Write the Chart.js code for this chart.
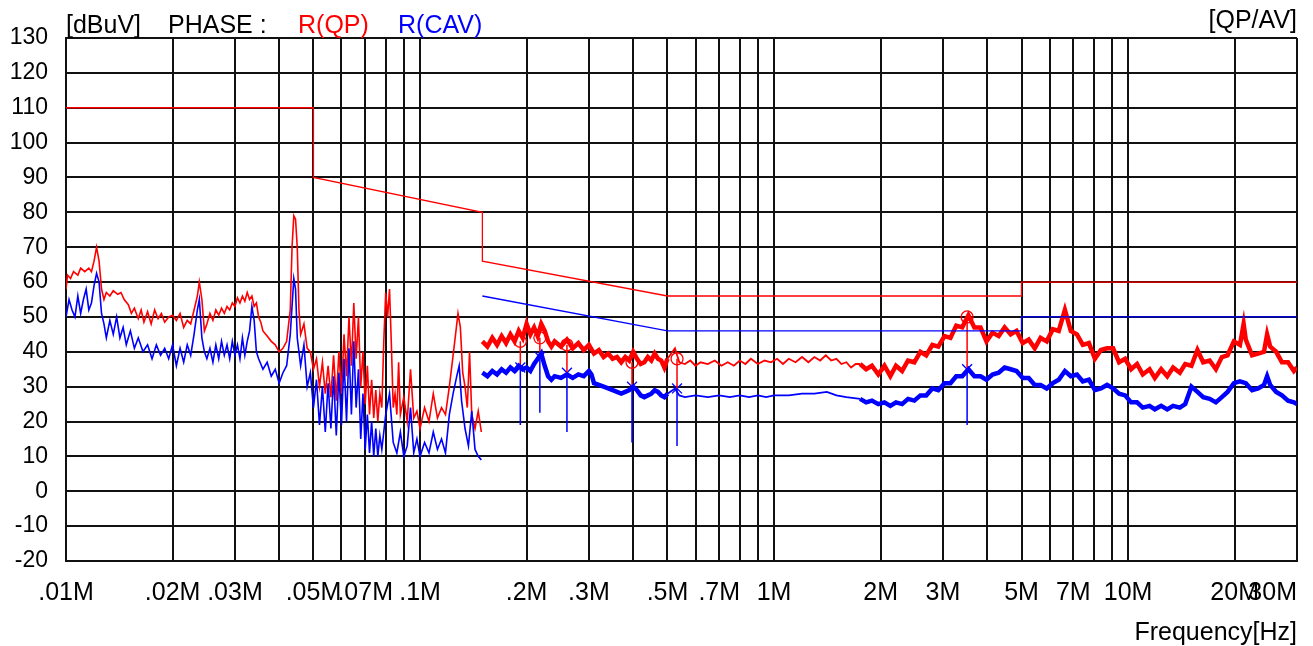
<!DOCTYPE html>
<html>
<head>
<meta charset="utf-8">
<script src="https://cdn.jsdelivr.net/npm/chart.js@4.4.1/dist/chart.umd.min.js"></script>
<style>
html, body { margin: 0; padding: 0; background: #fff; }
#wrap { width: 1313px; height: 646px; position: relative; }
</style>
</head>
<body>
<div id="wrap"><canvas id="emi"></canvas></div>
<script>
// frequencies in MHz, levels in dBuV

const gridFreqs = [0.01,0.02,0.03,0.04,0.05,0.06,0.07,0.08,0.09,
  0.1,0.2,0.3,0.4,0.5,0.6,0.7,0.8,0.9,1,2,3,4,5,6,7,8,9,10,20,30];
const tickFreqs = [0.01,0.02,0.03,0.05,0.07,0.1,0.2,0.3,0.5,0.7,1,2,3,5,7,10,20,30];
const tickLabels = ['.01M','.02M','.03M','.05M','.07M','.1M','.2M','.3M','.5M','.7M',
  '1M','2M','3M','5M','7M','10M','20M','30M'];

// limit lines
const qpLimFreq  = [0.01,0.05,0.05,0.15,0.15,0.5,5,5,30];
const qpLimLevel = [110,110,90,80,66,56,56,60,60];
const avLimFreq  = [0.15,0.5,5,5,30];
const avLimLevel = [56,46,46,50,50];

// QP trace, 0.01M - 0.15M
const qpLowFreq = [
  0.0100,0.0101,0.0103,0.0105,0.0108,0.0110,0.0113,0.0116,0.0118,0.0120,
  0.0122,0.0124,0.0126,0.0128,0.0130,0.0133,0.0136,0.0140,0.0143,0.0146,
  0.0150,0.0153,0.0156,0.0160,0.0163,0.0166,0.0170,0.0174,0.0178,0.0182,
  0.0186,0.0190,0.0195,0.0200,0.0205,0.0210,0.0215,0.0220,0.0225,0.0230,
  0.0235,0.0238,0.0242,0.0246,0.0250,0.0255,0.0260,0.0265,0.0270,0.0275,
  0.0280,0.0285,0.0290,0.0295,0.0300,0.0305,0.0310,0.0315,0.0320,0.0325,
  0.0330,0.0335,0.0340,0.0345,0.0350,0.0355,0.0360,0.0370,0.0380,0.0390,
  0.0400,0.0410,0.0420,0.0430,0.0435,0.0440,0.0445,0.0450,0.0455,0.0460,
  0.0470,0.0480,0.0490,0.0500,0.0510,0.0520,0.0530,0.0540,0.0550,0.0560,
  0.0570,0.0580,0.0590,0.0600,0.0610,0.0620,0.0630,0.0640,0.0650,0.0660,
  0.0670,0.0680,0.0690,0.0700,0.0710,0.0720,0.0730,0.0740,0.0750,0.0760,
  0.0770,0.0780,0.0790,0.0800,0.0810,0.0820,0.0830,0.0840,0.0850,0.0860,
  0.0870,0.0880,0.0900,0.0920,0.0940,0.0960,0.0980,0.1000,0.1030,0.1060,
  0.1090,0.1120,0.1150,0.1180,0.1210,0.1240,0.1260,0.1280,0.1300,0.1320,
  0.1340,0.1360,0.1380,0.1400,0.1430,0.1460,0.1490];
const qpLowLevel = [
  58,62,61,63,62,64,63,64,63,66,
  70,66,58,55,57,56,57.5,56.5,57,55,
  53.5,51,52.5,49.5,52,48.5,51.5,48,52,49.5,
  51,48.5,50,50.5,49,51,47,49,48,52,
  56,60,55,46,48,51,49,52,50.5,52.5,
  51,53,52,54,53,55.5,54,56,54.5,57,
  55,56,53,54,50,48.5,46,44.5,43,42,
  40,41,43,52,70,79,78,70,52,45,
  48,41,40,35,38,30,37,28,36,27,
  39,26,40,28,45,33,50,36,54,38,
  50,30,40,25,36,22,32,21,29,20,
  28,24,43,57,50,58,42,24,28,22,
  37,22,27,20,35,21,23,18,24,20,
  28,21,24,22,30,39,45,51,47,34,
  30,24,40,22,18,23,17];

// CAV trace, 0.01M - 0.15M
const avLowFreq = [
  0.0100,0.0102,0.0104,0.0106,0.0108,0.0110,0.0112,0.0114,0.0116,0.0118,
  0.0120,0.0122,0.0124,0.0126,0.0128,0.0130,0.0133,0.0136,0.0139,0.0142,
  0.0145,0.0148,0.0152,0.0156,0.0160,0.0165,0.0170,0.0175,0.0180,0.0185,
  0.0190,0.0195,0.0200,0.0205,0.0210,0.0215,0.0220,0.0225,0.0230,0.0235,
  0.0238,0.0242,0.0246,0.0250,0.0255,0.0260,0.0265,0.0270,0.0275,0.0280,
  0.0285,0.0290,0.0295,0.0300,0.0305,0.0310,0.0315,0.0320,0.0325,0.0330,
  0.0335,0.0340,0.0345,0.0350,0.0360,0.0370,0.0380,0.0390,0.0400,0.0410,
  0.0420,0.0430,0.0440,0.0445,0.0450,0.0460,0.0470,0.0480,0.0490,0.0500,
  0.0510,0.0520,0.0530,0.0540,0.0550,0.0560,0.0570,0.0580,0.0590,0.0600,
  0.0610,0.0620,0.0630,0.0640,0.0650,0.0660,0.0670,0.0680,0.0690,0.0700,
  0.0710,0.0720,0.0730,0.0740,0.0750,0.0760,0.0770,0.0780,0.0800,0.0820,
  0.0840,0.0860,0.0880,0.0900,0.0920,0.0940,0.0960,0.0980,0.1000,0.1030,
  0.1060,0.1090,0.1120,0.1150,0.1180,0.1210,0.1240,0.1270,0.1290,0.1310,
  0.1340,0.1370,0.1400,0.1430,0.1460,0.1490];
const avLowLevel = [
  50,55,52,50,56,51,55,58,52,54,
  59,62.5,60,51,48,44,49,45,50,44,
  47,42,46,41,44,40,42,38,42,39,
  41,38,42,36,41,37,42,39,45,52,
  55,44,40,38,41,37,42,38,43,39,
  42,38,43,39,42,38,44,39,43,46,
  53,49,40,38,35,37,33,35,31,34,
  36,45,61,58,44,36,42,30,34,24,
  32,19,30,17,31,18,33,16,34,19,
  38,20,41,22,43,24,35,15,28,12,
  22,11,20,10,18,10,16,12,22,28,
  14,11,17,10,13,24,11,15,10,14,
  11,17,12,15,11,22,28,33,36,26,
  18,13,23,12,10,9];

// QP trace, 0.15M - 30M
const qpHighFreq = [
  0.150,0.155,0.160,0.165,0.170,0.175,0.180,0.185,0.190,0.195,
  0.200,0.205,0.210,0.215,0.220,0.225,0.230,0.235,0.240,0.250,
  0.260,0.270,0.280,0.290,0.300,0.310,0.320,0.330,0.340,0.350,
  0.360,0.370,0.380,0.390,0.400,0.410,0.420,0.430,0.440,0.450,
  0.460,0.470,0.480,0.490,0.500,0.525,0.540,0.560,0.580,0.600,
  0.620,0.650,0.680,0.710,0.740,0.770,0.800,0.830,0.860,0.900,
  0.940,0.980,1.02,1.06,1.10,1.15,1.20,1.25,1.30,1.35,
  1.40,1.45,1.50,1.55,1.60,1.65,1.70,
  1.75,1.82,1.89,1.97,2.05,2.13,2.21,2.30,2.39,2.49,
  2.59,2.69,2.80,2.91,3.03,3.15,3.27,3.40,3.54,3.68,
  3.83,3.98,4.14,4.31,4.48,4.66,4.84,5.04,5.24,5.45,
  5.66,5.89,6.13,6.37,6.63,6.89,7.17,7.45,7.75,8.06,
  8.38,8.72,9.07,9.43,9.81,10.2,10.6,11.0,11.5,11.9,
  12.4,12.9,13.4,14.0,14.5,15.1,15.7,16.3,17.0,17.7,
  18.4,19.1,19.9,20.7,21.2,21.5,22.4,23.3,24.2,24.7,
  25.2,26.2,27.2,28.3,29.4,30.0];
const qpHighLevel = [
  43,41.5,44,42,44.5,42.5,45,43,46,44,
  48,45,47,44.5,48,46,43,41.5,43,41.5,
  43.5,41,42.5,40.5,42,39.5,40.5,38.5,39.5,38,
  38.5,37,38.5,37.5,40,38,36.5,37,38.5,37.5,
  39.5,38,37.5,35.5,38,41,37,36.5,37.5,36,
  37,36.5,37.5,36,37,36,37.5,36.5,38,36.5,
  37.5,37,38,36.5,38,37,38.5,37,38.5,37.5,
  39,37.5,38,36.5,37,35.5,36.5,
  36.5,35,36,33.5,36,33,36,34.5,37.5,37,
  40,39,42,41.5,44.5,44,47.5,47,50.5,47,
  47,43,45.5,44.5,47,45,46,42.5,43.5,41,
  44,43,46.5,46,52,46,45,42,42.5,38,
  40.5,41,41,37,38,35,36.5,33.5,35,32.5,
  35,33,35.5,34,36.5,36,40.5,37,37.5,35,
  38.5,39,43,42,48,43.5,39,39.5,40,45,
  41.5,40,37,37,34.5,35.5];

// CAV trace, 0.15M - 30M
const avHighFreq = [
  0.150,0.155,0.160,0.165,0.170,0.175,0.180,0.185,0.190,0.195,
  0.200,0.205,0.210,0.215,0.220,0.225,0.230,0.235,0.240,0.250,
  0.260,0.270,0.280,0.290,0.300,0.305,0.310,0.320,0.330,0.340,
  0.350,0.360,0.370,0.380,0.390,0.400,0.410,0.420,0.430,0.440,
  0.450,0.460,0.470,0.480,0.490,0.500,0.525,0.540,0.560,0.600,
  0.650,0.700,0.750,0.800,0.850,0.900,0.950,1.00,1.10,1.20,
  1.30,1.41,1.50,1.60,
  1.75,1.82,1.89,1.97,2.05,2.13,2.21,2.30,2.39,2.49,
  2.59,2.69,2.80,2.91,3.03,3.15,3.27,3.40,3.54,3.68,
  3.83,3.98,4.14,4.31,4.48,4.66,4.84,5.04,5.24,5.45,
  5.66,5.89,6.13,6.37,6.63,6.89,7.17,7.45,7.75,8.06,
  8.38,8.72,9.07,9.43,9.81,10.2,10.6,11.0,11.5,11.9,
  12.4,12.9,13.4,14.0,14.5,15.1,15.7,16.3,17.0,17.7,
  18.4,19.1,19.9,20.7,21.5,22.4,23.3,24.2,24.7,25.2,
  26.2,27.2,28.3,29.4,30.0];
const avHighLevel = [
  34,33,34.5,33.5,35,34,35.5,34.5,36,35,
  35.5,34.5,36.5,38,39.5,36,33,32,33,32.5,
  33.5,32.5,33.5,33,34.5,33.5,31,30.5,30,29.5,
  29,28.5,28,28.5,29,30,29,27.5,27,27.5,
  28,29,28.5,27.5,27,28,29.5,27.5,27,27.5,
  27,27.5,27,27.5,27,27.5,27,27.5,27.5,28,
  28,28.5,27.5,27,
  26.5,25.5,26,25,25.5,24.5,25.5,25,26.5,26,
  27.5,27.5,29.5,29,31,31,33,33,35,33,
  33,32,33.5,34,35.5,35,34.5,32.5,32.5,30.5,
  30.5,29.5,31,32,34.5,33,33.5,31.5,32,29,
  29.5,30.5,29.5,28,27.5,25.5,25.5,24,24.5,23.5,
  24.5,23.5,24.5,24,25,30,28.5,27,26.5,25.5,
  27,28.5,31,31.5,31,29,29.5,30.5,33,30.5,
  28.5,27.5,26,25.5,25];

// final measurement markers
const mkFreq  = [0.192,0.218,0.26,0.397,0.532,3.51];
const mkQP    = [43,44,42,37,38,50];
const mkAV    = [35.5,38.5,34,30,29.5,35];
const mkFloor = [19,22.5,17,14,13,19];

const RED = '#ff0000';
const BLUE = '#0000ff';
const FONT = '"Liberation Sans", Arial, sans-serif';

const toPts = (f, v) => f.map((x, i) => ({x: x, y: v[i]}));
const stems = (f, top, bottom) => {
  const out = [];
  f.forEach((x, i) => { out.push({x: x, y: top[i]}, {x: x, y: bottom[i]}, {x: x, y: null}); });
  return out;
};
const thin = ctx => (ctx.p0.parsed.x >= 0.5 && ctx.p1.parsed.x <= 1.75) ? 1.8 : 4.5;

const textPlugin = {
  id: 'texts',
  afterDraw(chart) {
    const ctx = chart.ctx;
    const a = chart.chartArea;
    const xs = chart.scales.x;
    ctx.save();
    ctx.textBaseline = 'alphabetic';
    ctx.font = '25px ' + FONT;
    ctx.fillStyle = '#000';
    tickFreqs.forEach((f, i) => {
      const px = xs.getPixelForValue(f);
      const w = ctx.measureText(tickLabels[i]).width;
      let left = px - w / 2;
      if (left + w > a.right) left = a.right - w;
      ctx.textAlign = 'left';
      ctx.fillText(tickLabels[i], left, 600);
    });
    ctx.textAlign = 'left';
    ctx.fillText('[dBuV]', 66, 33);
    ctx.fillText('PHASE :', 168, 33);
    ctx.fillStyle = RED;
    ctx.fillText('R(QP)', 298, 33);
    ctx.fillStyle = BLUE;
    ctx.fillText('R(CAV)', 398, 33);
    ctx.fillStyle = '#000';
    ctx.textAlign = 'right';
    ctx.fillText('[QP/AV]', a.right, 28);
    ctx.fillText('Frequency[Hz]', a.right, 640);
    ctx.restore();
  }
};

new Chart(document.getElementById('emi'), {
  type: 'line',
  data: {
    datasets: [
      {data: toPts(qpLimFreq, qpLimLevel), borderColor: RED, borderWidth: 1.3},
      {data: toPts(avLimFreq, avLimLevel), borderColor: BLUE, borderWidth: 1.3},
      {data: toPts(avLowFreq, avLowLevel), borderColor: BLUE, borderWidth: 1.6},
      {data: toPts(qpLowFreq, qpLowLevel), borderColor: RED, borderWidth: 1.6},
      {data: toPts(avHighFreq, avHighLevel), borderColor: BLUE, borderWidth: 4.5, segment: {borderWidth: thin}},
      {data: toPts(qpHighFreq, qpHighLevel), borderColor: RED, borderWidth: 4.5, segment: {borderWidth: thin}},
      {data: stems(mkFreq, mkAV, mkFloor), borderColor: BLUE, borderWidth: 1.5, spanGaps: false},
      {data: stems(mkFreq, mkQP, mkAV), borderColor: RED, borderWidth: 1.5, spanGaps: false},
      {data: toPts(mkFreq, mkQP), showLine: false, pointRadius: 6, pointStyle: 'circle',
        pointBorderColor: RED, pointBackgroundColor: 'rgba(0,0,0,0)', pointBorderWidth: 1.3},
      {data: toPts(mkFreq, mkAV), showLine: false, pointRadius: 7, pointStyle: 'crossRot',
        pointBorderColor: BLUE, pointBorderWidth: 1.3}
    ]
  },
  options: {
    animation: false,
    responsive: true,
    maintainAspectRatio: false,
    layout: {padding: {top: 38, right: 16, left: 0, bottom: 0}},
    elements: {point: {radius: 0}, line: {tension: 0}},
    plugins: {legend: {display: false}, tooltip: {enabled: false}},
    scales: {
      x: {
        type: 'logarithmic',
        min: 0.01,
        max: 30,
        afterBuildTicks: s => { s.ticks = gridFreqs.map(v => ({value: v})); },
        afterFit: s => { s.height = 85; },
        ticks: {display: false},
        grid: {color: '#111', lineWidth: 2, drawTicks: false},
        border: {color: '#111', width: 2}
      },
      y: {
        min: -20,
        max: 130,
        afterFit: s => { s.width = 66; },
        ticks: {stepSize: 10, padding: 18, color: '#000', font: {family: FONT, size: 23}},
        grid: {color: '#111', lineWidth: 2, drawTicks: false},
        border: {color: '#111', width: 2}
      }
    }
  },
  plugins: [textPlugin]
});
</script>
</body>
</html>
